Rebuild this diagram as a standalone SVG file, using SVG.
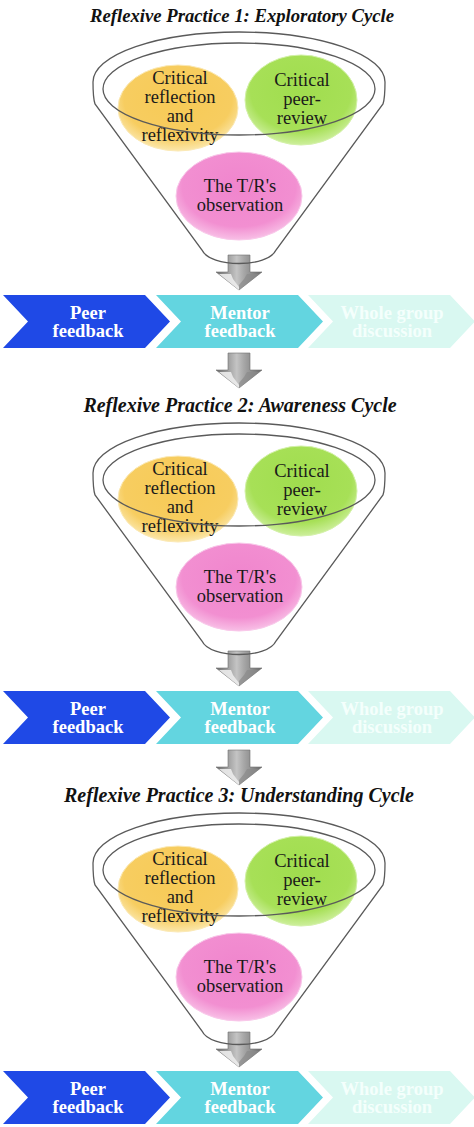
<svg xmlns="http://www.w3.org/2000/svg" xmlns:xlink="http://www.w3.org/1999/xlink" width="474" height="1127" viewBox="0 0 474 1127">
<style>
.title{font-family:"Liberation Serif","Times New Roman",serif;font-size:20px;font-weight:bold;font-style:italic;fill:#111;text-anchor:middle}
.t1{font-size:18.7px}
.ct{font-family:"Liberation Serif","Times New Roman",serif;font-size:18.5px;fill:#1a1a1a;text-anchor:middle}
.cv{font-family:"Liberation Serif","Times New Roman",serif;font-size:18.5px;font-weight:bold;fill:#fff;text-anchor:middle}
.rim{fill:none;stroke:#5a5a5a;stroke-width:1.3}
.peer{fill:#1f49e6}
.mentor{fill:#63d5e0}
.whole{fill:#d9f8f1}
.wtext{fill:#f4fffc}
</style>
<defs>
<radialGradient id="gY" cx="50%" cy="40%" r="60%">
<stop offset="0" stop-color="#f7ca56"/><stop offset="0.75" stop-color="#f7cd60"/><stop offset="1" stop-color="#fbe7ab"/>
</radialGradient>
<radialGradient id="gG" cx="50%" cy="40%" r="60%">
<stop offset="0" stop-color="#a0dd4e"/><stop offset="0.75" stop-color="#a7e057"/><stop offset="1" stop-color="#cdef9c"/>
</radialGradient>
<radialGradient id="gP" cx="50%" cy="40%" r="60%">
<stop offset="0" stop-color="#f085cd"/><stop offset="0.75" stop-color="#f28fd1"/><stop offset="1" stop-color="#f8bfe6"/>
</radialGradient>
<linearGradient id="gA" x1="0" y1="0" x2="1" y2="0">
<stop offset="0" stop-color="#6c6c6c"/><stop offset="0.45" stop-color="#c4c4c4"/><stop offset="0.6" stop-color="#a8a8a8"/><stop offset="1" stop-color="#6a6a6a"/>
</linearGradient>
<g id="arrow">
<polygon points="-11,0 11,0 11,17 23,17 0,35 -23,17 -11,17" fill="url(#gA)" stroke="#707070" stroke-width="0.6"/>
<polygon points="-20,19 -8,19 -6,24 0,32 0,35" fill="#ececec" opacity="0.9"/>
<polygon points="8,19 20,19 0,35 0,30 5,24" fill="#8a8a8a" opacity="0.7"/>
</g>
<path id="funnel" class="rim" d="M93,82 A146,50 0 0 1 385,82 C385,92 385,98 383,104 L276,250 C268,268 210,268 202,250 L95,104 C93,98 93,92 93,82 Z"/>
<ellipse id="innerRim" class="rim" cx="239" cy="89" rx="136" ry="46"/>
<polygon id="chev" points="0,0 142,0 167,26.5 142,53 0,53 25,26.5"/>
</defs>

<g id="connectors">
<use href="#arrow" x="239" y="255"/>
<use href="#arrow" x="239" y="353"/>
<use href="#arrow" x="239" y="651"/>
<use href="#arrow" x="239" y="750"/>
<use href="#arrow" x="239" y="1032"/>
</g>

<!-- Block 1 -->
<g id="title1"><text class="title t1" x="242" y="22">Reflexive Practice 1: Exploratory Cycle</text></g>
<g id="funnel1">
<use href="#funnel"/>
<g id="reflection1"><ellipse cx="178" cy="108" rx="60" ry="43" fill="url(#gY)" stroke="#fbe9b5" stroke-width="1"/>
<text class="ct" x="180" y="84">Critical</text><text class="ct" x="180" y="103">reflection</text><text class="ct" x="180" y="122">and</text><text class="ct" x="180" y="141">reflexivity</text></g>
<g id="peerreview1"><ellipse cx="301" cy="100" rx="56" ry="45" fill="url(#gG)" stroke="#d3f1a8" stroke-width="1"/>
<text class="ct" x="302" y="86">Critical</text><text class="ct" x="302" y="105">peer-</text><text class="ct" x="302" y="124">review</text></g>
<g id="observation1"><ellipse cx="239" cy="196" rx="63" ry="44" fill="url(#gP)" stroke="#f9c8ea" stroke-width="1"/>
<text class="ct" x="240" y="192">The T/R's</text><text class="ct" x="240" y="211">observation</text></g>
<use href="#innerRim"/>
</g>
<g id="chevrons1" transform="translate(0,295)">
<g id="peer1"><use href="#chev" x="3" class="peer"/><text class="cv" x="88" y="23.5">Peer</text><text class="cv" x="88" y="42">feedback</text></g>
<g id="mentor1"><use href="#chev" x="156" class="mentor"/><text class="cv" x="240" y="23.5">Mentor</text><text class="cv" x="240" y="42">feedback</text></g>
<g id="whole1"><use href="#chev" x="308" class="whole"/><text class="cv wtext" x="392" y="23.5">Whole group</text><text class="cv wtext" x="392" y="42">discussion</text></g>
</g>

<!-- Block 2 -->
<g id="title2"><text class="title" x="240" y="412">Reflexive Practice 2: Awareness Cycle</text></g>
<g id="funnel2" transform="translate(0,391)">
<use href="#funnel"/>
<g id="reflection2"><ellipse cx="178" cy="108" rx="60" ry="43" fill="url(#gY)" stroke="#fbe9b5" stroke-width="1"/>
<text class="ct" x="180" y="84">Critical</text><text class="ct" x="180" y="103">reflection</text><text class="ct" x="180" y="122">and</text><text class="ct" x="180" y="141">reflexivity</text></g>
<g id="peerreview2"><ellipse cx="301" cy="100" rx="56" ry="45" fill="url(#gG)" stroke="#d3f1a8" stroke-width="1"/>
<text class="ct" x="302" y="86">Critical</text><text class="ct" x="302" y="105">peer-</text><text class="ct" x="302" y="124">review</text></g>
<g id="observation2"><ellipse cx="239" cy="196" rx="63" ry="44" fill="url(#gP)" stroke="#f9c8ea" stroke-width="1"/>
<text class="ct" x="240" y="192">The T/R's</text><text class="ct" x="240" y="211">observation</text></g>
<use href="#innerRim"/>
</g>
<g id="chevrons2" transform="translate(0,691)">
<g id="peer2"><use href="#chev" x="3" class="peer"/><text class="cv" x="88" y="23.5">Peer</text><text class="cv" x="88" y="42">feedback</text></g>
<g id="mentor2"><use href="#chev" x="156" class="mentor"/><text class="cv" x="240" y="23.5">Mentor</text><text class="cv" x="240" y="42">feedback</text></g>
<g id="whole2"><use href="#chev" x="308" class="whole"/><text class="cv wtext" x="392" y="23.5">Whole group</text><text class="cv wtext" x="392" y="42">discussion</text></g>
</g>

<!-- Block 3 -->
<g id="title3"><text class="title" x="239" y="802">Reflexive Practice 3: Understanding Cycle</text></g>
<g id="funnel3" transform="translate(0,781)">
<use href="#funnel"/>
<g id="reflection3"><ellipse cx="178" cy="108" rx="60" ry="43" fill="url(#gY)" stroke="#fbe9b5" stroke-width="1"/>
<text class="ct" x="180" y="84">Critical</text><text class="ct" x="180" y="103">reflection</text><text class="ct" x="180" y="122">and</text><text class="ct" x="180" y="141">reflexivity</text></g>
<g id="peerreview3"><ellipse cx="301" cy="100" rx="56" ry="45" fill="url(#gG)" stroke="#d3f1a8" stroke-width="1"/>
<text class="ct" x="302" y="86">Critical</text><text class="ct" x="302" y="105">peer-</text><text class="ct" x="302" y="124">review</text></g>
<g id="observation3"><ellipse cx="239" cy="196" rx="63" ry="44" fill="url(#gP)" stroke="#f9c8ea" stroke-width="1"/>
<text class="ct" x="240" y="192">The T/R's</text><text class="ct" x="240" y="211">observation</text></g>
<use href="#innerRim"/>
</g>
<g id="chevrons3" transform="translate(0,1071)">
<g id="peer3"><use href="#chev" x="3" class="peer"/><text class="cv" x="88" y="23.5">Peer</text><text class="cv" x="88" y="42">feedback</text></g>
<g id="mentor3"><use href="#chev" x="156" class="mentor"/><text class="cv" x="240" y="23.5">Mentor</text><text class="cv" x="240" y="42">feedback</text></g>
<g id="whole3"><use href="#chev" x="308" class="whole"/><text class="cv wtext" x="392" y="23.5">Whole group</text><text class="cv wtext" x="392" y="42">discussion</text></g>
</g>
</svg>
